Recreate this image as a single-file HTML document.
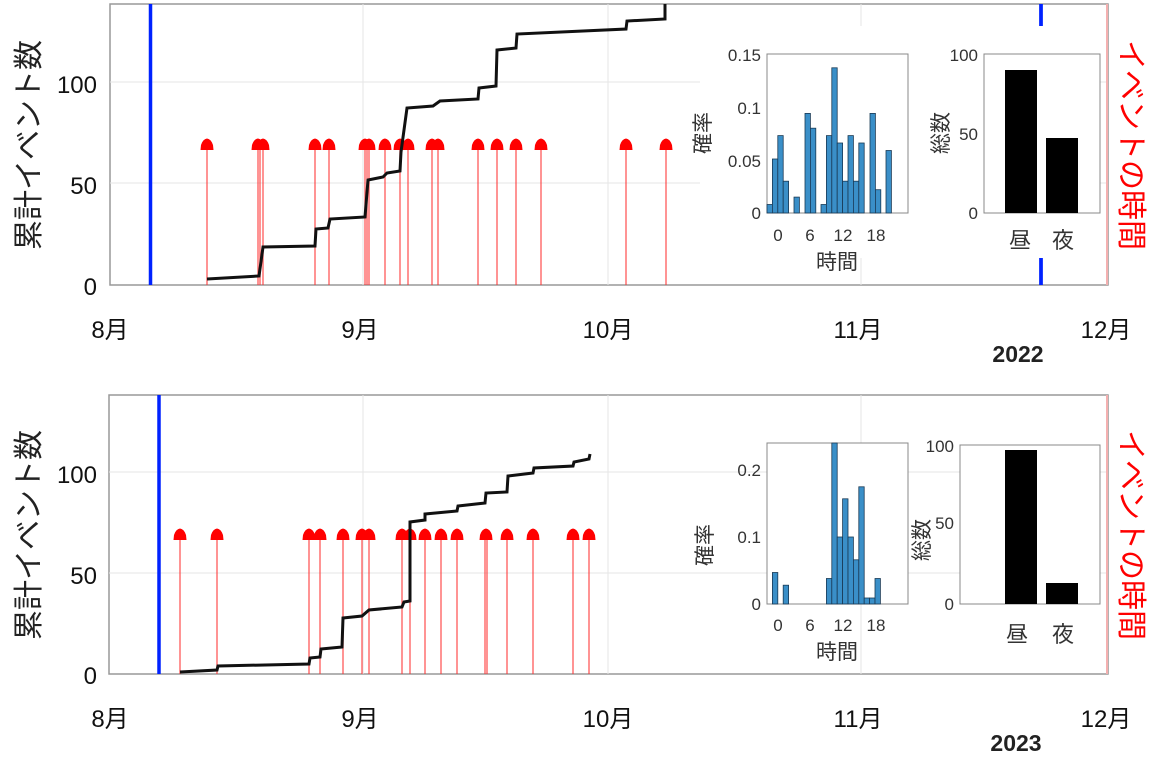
<!DOCTYPE html>
<html><head><meta charset="utf-8"><style>
html,body{margin:0;padding:0;background:#fff;}
svg{display:block;font-family:"Liberation Sans","Noto Sans CJK JP",sans-serif;}
</style></head><body>
<svg width="1152" height="757" viewBox="0 0 1152 757" xmlns="http://www.w3.org/2000/svg">
<defs>
<g id="mk"><path d="M-6.5,4 L-6,-1 Q-4,-7 0,-7.5 Q4,-7 6,-1 L6.5,4 Z" fill="#f00"/></g>
</defs>
<!-- ============ TOP PANEL ============ -->
<g>
<rect x="110" y="4" width="998" height="281" fill="#fff" stroke="#999" stroke-width="1.5"/>
<g stroke="#e6e6e6" stroke-width="1">
<line x1="363" y1="4" x2="363" y2="285"/><line x1="608" y1="4" x2="608" y2="285"/><line x1="861" y1="4" x2="861" y2="285"/>
<line x1="110" y1="82" x2="1108" y2="82"/><line x1="110" y1="183" x2="1108" y2="183"/>
</g>
<line x1="1107" y1="4" x2="1107" y2="285" stroke="#f4b0b0" stroke-width="2"/>
<line x1="150.5" y1="4" x2="150.5" y2="285" stroke="#0022ff" stroke-width="3.5"/>
<line x1="1041" y1="4" x2="1041" y2="285" stroke="#0022ff" stroke-width="3.5"/>
<g stroke="#f33" stroke-width="1.4" opacity="0.75">
<line x1="207" y1="145" x2="207" y2="285"/><line x1="258" y1="145" x2="258" y2="285"/><line x1="260" y1="145" x2="260" y2="285"/><line x1="263" y1="145" x2="263" y2="285"/>
<line x1="315" y1="145" x2="315" y2="285"/><line x1="329" y1="145" x2="329" y2="285"/><line x1="365" y1="145" x2="365" y2="285"/><line x1="367" y1="145" x2="367" y2="285"/><line x1="369" y1="145" x2="369" y2="285"/>
<line x1="385" y1="145" x2="385" y2="285"/><line x1="400" y1="145" x2="400" y2="285"/><line x1="408" y1="145" x2="408" y2="285"/><line x1="432" y1="145" x2="432" y2="285"/><line x1="438" y1="145" x2="438" y2="285"/>
<line x1="478" y1="145" x2="478" y2="285"/><line x1="497" y1="145" x2="497" y2="285"/><line x1="516" y1="145" x2="516" y2="285"/><line x1="541" y1="145" x2="541" y2="285"/><line x1="626" y1="145" x2="626" y2="285"/><line x1="666" y1="145" x2="666" y2="285"/>
</g>
<g transform="translate(0,146)">
<use href="#mk" x="207"/><use href="#mk" x="258"/><use href="#mk" x="263"/><use href="#mk" x="315"/><use href="#mk" x="329"/><use href="#mk" x="365"/><use href="#mk" x="369"/><use href="#mk" x="385"/><use href="#mk" x="400"/><use href="#mk" x="408"/><use href="#mk" x="432"/><use href="#mk" x="438"/><use href="#mk" x="478"/><use href="#mk" x="497"/><use href="#mk" x="516"/><use href="#mk" x="541"/><use href="#mk" x="626"/><use href="#mk" x="666"/>
</g>
<polyline fill="none" stroke="#111" stroke-width="3" points="207,279 259,276 263,247 315,246 316,229 328,228 330,219 365,217 368,180 383,177 387,173 400,171 401,152 407,108 433,106 440,101 478,99 479,88 496,86 497,50 516,48 517,34 626,29 627,21 665,19 665,4"/>
<rect x="700" y="26" width="398" height="232" fill="#fff"/>
<g font-size="24" fill="#111" text-anchor="end">
<text x="97" y="93">100</text><text x="97" y="194">50</text><text x="97" y="295">0</text>
</g>
<g font-size="24" fill="#111" text-anchor="middle">
<text x="110" y="338">8月</text><text x="360" y="338">9月</text><text x="608" y="338">10月</text><text x="858" y="338">11月</text><text x="1106" y="338">12月</text>
</g>
<text x="1018" y="362" font-size="23" font-weight="bold" fill="#222" text-anchor="middle">2022</text>
<text transform="translate(39,145) rotate(-90)" font-size="30" fill="#222" text-anchor="middle">累計イベント数</text>
<text transform="translate(1121,145) rotate(90)" font-size="30" fill="#f00" text-anchor="middle">イベントの時間</text>
<rect x="767" y="54" width="141" height="159" fill="#fff" stroke="#888" stroke-width="1"/>
<g fill="#3a8fc8" stroke="#1a3a55" stroke-width="0.8">
<rect x="767" y="204.5" width="5.4" height="8.5"/>
<rect x="772.4" y="159" width="5.4" height="54"/>
<rect x="777.8" y="135.6" width="5.4" height="77.4"/>
<rect x="783.2" y="181.2" width="5.4" height="31.8"/>
<rect x="794" y="197.1" width="5.4" height="15.9"/>
<rect x="805" y="113.4" width="5.4" height="99.6"/>
<rect x="810.4" y="128.2" width="5.4" height="84.8"/>
<rect x="821" y="204.5" width="5.4" height="8.5"/>
<rect x="826.4" y="135.6" width="5.4" height="77.4"/>
<rect x="831.8" y="67.8" width="5.4" height="145.2"/>
<rect x="837.2" y="143" width="5.4" height="70"/>
<rect x="842.6" y="181.2" width="5.4" height="31.8"/>
<rect x="848" y="135.6" width="5.4" height="77.4"/>
<rect x="853.4" y="181.2" width="5.4" height="31.8"/>
<rect x="858.8" y="143" width="5.4" height="70"/>
<rect x="870" y="113.4" width="5.4" height="99.6"/>
<rect x="875.4" y="189.7" width="5.4" height="23.3"/>
<rect x="886" y="150.5" width="5.4" height="62.5"/>
</g>
<g font-size="17" fill="#333" text-anchor="end">
<text x="761" y="61">0.15</text><text x="761" y="114">0.1</text><text x="761" y="167">0.05</text><text x="761" y="219">0</text>
</g>
<g font-size="17" fill="#333" text-anchor="middle">
<text x="778" y="241">0</text><text x="810" y="241">6</text><text x="843" y="241">12</text><text x="876" y="241">18</text>
</g>
<text x="837" y="269" font-size="21" fill="#333" text-anchor="middle">時間</text>
<text transform="translate(710,133) rotate(-90)" font-size="21" fill="#333" text-anchor="middle">確率</text>
<rect x="984" y="54" width="116" height="159" fill="#fff" stroke="#888" stroke-width="1"/>
<rect x="1005" y="70" width="32" height="143" fill="#000"/>
<rect x="1046" y="138" width="32" height="75" fill="#000"/>
<g font-size="17" fill="#333" text-anchor="end">
<text x="978" y="61">100</text><text x="978" y="140">50</text><text x="978" y="219">0</text>
</g>
<text x="1020" y="248" font-size="22" fill="#333" text-anchor="middle">昼</text>
<text x="1063" y="248" font-size="22" fill="#333" text-anchor="middle">夜</text>
<text transform="translate(948,133) rotate(-90)" font-size="21" fill="#333" text-anchor="middle">総数</text>
<line x1="1041" y1="4" x2="1041" y2="26" stroke="#0022ff" stroke-width="3.5"/>
<line x1="1041" y1="258" x2="1041" y2="285" stroke="#0022ff" stroke-width="3.5"/>
</g>

<!-- ============ BOTTOM PANEL ============ -->
<g>
<rect x="109" y="395" width="999" height="279" fill="#fff" stroke="#999" stroke-width="1.5"/>
<g stroke="#e6e6e6" stroke-width="1">
<line x1="363" y1="395" x2="363" y2="674"/><line x1="608" y1="395" x2="608" y2="674"/><line x1="861" y1="395" x2="861" y2="674"/>
<line x1="109" y1="472" x2="1108" y2="472"/><line x1="109" y1="573" x2="1108" y2="573"/>
</g>
<line x1="1107" y1="395" x2="1107" y2="674" stroke="#f4b0b0" stroke-width="2"/>
<line x1="159" y1="395" x2="159" y2="674" stroke="#0022ff" stroke-width="3.5"/>
<g stroke="#f33" stroke-width="1.4" opacity="0.75">
<line x1="180" y1="535" x2="180" y2="674"/><line x1="217" y1="535" x2="217" y2="674"/><line x1="309" y1="535" x2="309" y2="674"/><line x1="320" y1="535" x2="320" y2="674"/>
<line x1="343" y1="535" x2="343" y2="674"/><line x1="362" y1="535" x2="362" y2="674"/><line x1="369" y1="535" x2="369" y2="674"/><line x1="402" y1="535" x2="402" y2="674"/>
<line x1="410" y1="535" x2="410" y2="674"/><line x1="425" y1="535" x2="425" y2="674"/><line x1="441" y1="535" x2="441" y2="674"/><line x1="457" y1="535" x2="457" y2="674"/>
<line x1="485" y1="535" x2="485" y2="674"/><line x1="487" y1="535" x2="487" y2="674"/><line x1="507" y1="535" x2="507" y2="674"/><line x1="533" y1="535" x2="533" y2="674"/><line x1="573" y1="535" x2="573" y2="674"/><line x1="589" y1="535" x2="589" y2="674"/>
</g>
<g transform="translate(0,536)">
<use href="#mk" x="180"/><use href="#mk" x="217"/><use href="#mk" x="309"/><use href="#mk" x="320"/><use href="#mk" x="343"/><use href="#mk" x="362"/><use href="#mk" x="369"/><use href="#mk" x="402"/><use href="#mk" x="410"/><use href="#mk" x="425"/><use href="#mk" x="441"/><use href="#mk" x="457"/><use href="#mk" x="486"/><use href="#mk" x="507"/><use href="#mk" x="533"/><use href="#mk" x="573"/><use href="#mk" x="589"/>
</g>
<polyline fill="none" stroke="#111" stroke-width="3" points="180,672 217,670 218,666 309,664 310,658 320,657 321,649 342,647 343,618 362,616 369,610 402,607 404,602 410,601 410,522 425,520 425,514 457,511 458,506 485,503 486,493 507,492 508,476 533,473 534,468 573,466 574,462 589,459 590,454"/>
<g font-size="24" fill="#111" text-anchor="end">
<text x="97" y="483">100</text><text x="97" y="584">50</text><text x="97" y="684">0</text>
</g>
<g font-size="24" fill="#111" text-anchor="middle">
<text x="110" y="727">8月</text><text x="360" y="727">9月</text><text x="608" y="727">10月</text><text x="858" y="727">11月</text><text x="1106" y="727">12月</text>
</g>
<text x="1016" y="751" font-size="23" font-weight="bold" fill="#222" text-anchor="middle">2023</text>
<text transform="translate(39,535) rotate(-90)" font-size="30" fill="#222" text-anchor="middle">累計イベント数</text>
<text transform="translate(1121,535) rotate(90)" font-size="30" fill="#f00" text-anchor="middle">イベントの時間</text>
<rect x="767" y="443" width="141" height="161" fill="#fff" stroke="#888" stroke-width="1"/>
<g fill="#3a8fc8" stroke="#1a3a55" stroke-width="0.8">
<rect x="772.4" y="572.5" width="5.4" height="31.5"/>
<rect x="783.2" y="585.2" width="5.4" height="18.8"/>
<rect x="826.4" y="578.5" width="5.4" height="25.5"/>
<rect x="831.8" y="443" width="5.4" height="161"/>
<rect x="837.2" y="537" width="5.4" height="67"/>
<rect x="842.6" y="498.8" width="5.4" height="105.2"/>
<rect x="848" y="537" width="5.4" height="67"/>
<rect x="853.4" y="559.8" width="5.4" height="44.2"/>
<rect x="858.8" y="486.8" width="5.4" height="117.2"/>
<rect x="864.2" y="598" width="5.4" height="6"/>
<rect x="869.6" y="598" width="5.4" height="6"/>
<rect x="875" y="578.5" width="5.4" height="25.5"/>
</g>
<g font-size="17" fill="#333" text-anchor="end">
<text x="761" y="476">0.2</text><text x="761" y="543">0.1</text><text x="761" y="610">0</text>
</g>
<g font-size="17" fill="#333" text-anchor="middle">
<text x="778" y="631">0</text><text x="810" y="631">6</text><text x="843" y="631">12</text><text x="876" y="631">18</text>
</g>
<text x="837" y="659" font-size="21" fill="#333" text-anchor="middle">時間</text>
<text transform="translate(712,545) rotate(-90)" font-size="21" fill="#333" text-anchor="middle">確率</text>
<rect x="960" y="445" width="140" height="159" fill="#fff" stroke="#888" stroke-width="1"/>
<rect x="1005" y="450" width="32" height="154" fill="#000"/>
<rect x="1046" y="583" width="32" height="21" fill="#000"/>
<g font-size="17" fill="#333" text-anchor="end">
<text x="954" y="452">100</text><text x="954" y="529">50</text><text x="954" y="610">0</text>
</g>
<text x="1017" y="642" font-size="22" fill="#333" text-anchor="middle">昼</text>
<text x="1063" y="642" font-size="22" fill="#333" text-anchor="middle">夜</text>
<text transform="translate(929,540) rotate(-90)" font-size="21" fill="#333" text-anchor="middle">総数</text>
</g>
</svg>
</body></html>
